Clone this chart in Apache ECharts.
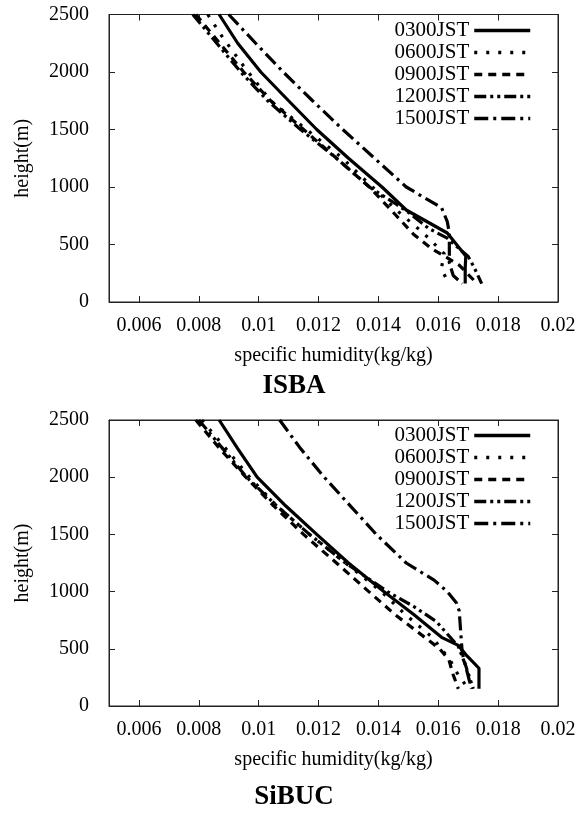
<!DOCTYPE html>
<html><head><meta charset="utf-8">
<script src="https://cdn.jsdelivr.net/npm/echarts@6/dist/echarts.min.js"></script>
<style>html,body{margin:0;padding:0;background:#fff}#c{width:585px;height:813px}</style>
</head><body><div id="c"></div>
<script>
// ---- data ----
const seriesNames = ['0300JST', '0600JST', '0900JST', '1200JST', '1500JST'];
const panelTitles = ['ISBA', 'SiBUC'];
const xTicks = [0.006, 0.008, 0.01, 0.012, 0.014, 0.016, 0.018, 0.02];
const xLabel = 'specific humidity(kg/kg)';
const yLabel = 'height(m)';

// ISBA  [specific humidity, height]
const isba0300 = [[0.00868,2500],[0.0093,2250],[0.01007,2000],[0.0110,1750],[0.01194,1500],[0.0130,1250],[0.01412,1000],[0.01493,800],[0.0163,600],[0.01692,400],[0.0169,300],[0.0169,160]];
const isba0600 = [[0.0083,2500],[0.0088,2300],[0.0095,2050],[0.0098,1950],[0.0104,1750],[0.0116,1500],[0.0128,1250],[0.0138,1000],[0.0146,800],[0.0155,600],[0.0162,420],[0.0161,290],[0.01635,160]];
const isba0900 = [[0.0079,2500],[0.0087,2250],[0.0095,2000],[0.0104,1750],[0.0115,1500],[0.0126,1250],[0.0137,1000],[0.0146,750],[0.01517,590],[0.0158,460],[0.0162,400],[0.0167,320],[0.0173,160]];
const isba1200 = [[0.0078,2500],[0.0086,2250],[0.0094,2000],[0.0103,1750],[0.0114,1500],[0.0126,1250],[0.0137,1000],[0.0146,850],[0.01505,770],[0.01568,640],[0.0163,555],[0.0170,395],[0.0172,300],[0.01745,160]];
const isba1500 = [[0.0090,2500],[0.0099,2250],[0.01082,2000],[0.0118,1750],[0.01281,1500],[0.01387,1250],[0.01493,1000],[0.01611,820],[0.0163,700],[0.01637,600],[0.01637,340],[0.0165,230],[0.0168,160]];

// SiBUC
const sibuc0300 = [[0.00868,2500],[0.0093,2250],[0.00995,2000],[0.0109,1750],[0.01194,1500],[0.0130,1250],[0.01418,1000],[0.01518,800],[0.01611,600],[0.01667,530],[0.01692,450],[0.01736,330],[0.01736,150]];
const sibuc0600 = [[0.0081,2500],[0.0089,2250],[0.0097,2000],[0.0106,1750],[0.0117,1500],[0.0129,1250],[0.0141,1000],[0.0149,800],[0.0158,600],[0.0164,400],[0.0166,300],[0.0170,150]];
const sibuc0900 = [[0.0079,2500],[0.0087,2250],[0.00957,2000],[0.0105,1750],[0.0115,1500],[0.0126,1250],[0.01368,1000],[0.01455,800],[0.01555,600],[0.01605,500],[0.01636,400],[0.01649,280],[0.01667,150]];
const sibuc1200 = [[0.0080,2500],[0.0088,2250],[0.0096,2000],[0.0106,1750],[0.0117,1500],[0.0129,1250],[0.0143,1000],[0.01518,870],[0.01593,740],[0.01667,520],[0.01692,350],[0.01717,150]];
const sibuc1500 = [[0.0107,2500],[0.0114,2250],[0.01219,2000],[0.01306,1750],[0.01393,1500],[0.01493,1250],[0.01586,1100],[0.0163,1000],[0.01661,900],[0.0167,830],[0.0168,465],[0.01711,150]];

const panelData = [
  [isba0300, isba0600, isba0900, isba1200, isba1500],
  [sibuc0300, sibuc0600, sibuc0900, sibuc1200, sibuc1500]
];

// ---- styles ----
const FONT = '"Liberation Serif", "DejaVu Serif", serif';
const dashes = ['solid', [3, 9], [8, 6], [12, 4, 3, 4, 3, 4], [14, 5, 3, 5]];
const grids = [
  { left: 109, top: 14.5, width: 449, height: 287.5 },
  { left: 109, top: 420, width: 449, height: 286 }
];

const option = {
  animation: false,
  backgroundColor: '#fff',
  grid: grids.map(g => Object.assign({ show: true, borderColor: '#222', borderWidth: 1, backgroundColor: 'transparent' }, g)),
  xAxis: [],
  yAxis: [],
  legend: [],
  series: [],
  graphic: []
};

grids.forEach((g, gi) => {
  option.xAxis.push({
    type: 'value', gridIndex: gi, min: 0.005, max: 0.02, position: 'bottom',
    name: xLabel, nameLocation: 'middle', nameGap: 44,
    nameTextStyle: { fontFamily: FONT, fontSize: 20, color: '#000' },
    axisLine: { show: true, onZero: false, lineStyle: { color: '#222', width: 1 } },
    axisTick: { show: true, inside: true, length: 6, customValues: xTicks, lineStyle: { color: '#222' } },
    axisLabel: { show: true, customValues: xTicks, margin: 14, fontFamily: FONT, fontSize: 20, color: '#000',
      formatter: v => String(+v.toFixed(3)) },
    splitLine: { show: false }
  });
  option.xAxis.push({
    type: 'value', gridIndex: gi, min: 0.005, max: 0.02, position: 'top',
    axisLine: { show: true, onZero: false, lineStyle: { color: '#222', width: 1 } },
    axisTick: { show: true, inside: true, length: 6, customValues: xTicks, lineStyle: { color: '#222' } },
    axisLabel: { show: false }, splitLine: { show: false }
  });
  option.yAxis.push({
    type: 'value', gridIndex: gi, min: 0, max: 2500, interval: 500, position: 'left',
    name: yLabel, nameLocation: 'middle', nameGap: 76, nameRotate: 90,
    nameTextStyle: { fontFamily: FONT, fontSize: 20, color: '#000' },
    axisLine: { show: true, onZero: false, lineStyle: { color: '#222', width: 1 } },
    axisTick: { show: true, inside: true, length: 6, lineStyle: { color: '#222' } },
    axisLabel: { margin: 20, fontFamily: FONT, fontSize: 20, color: '#000', formatter: v => String(v) },
    splitLine: { show: false }
  });
  option.yAxis.push({
    type: 'value', gridIndex: gi, min: 0, max: 2500, interval: 500, position: 'right',
    axisLine: { show: true, onZero: false, lineStyle: { color: '#222', width: 1 } },
    axisTick: { show: true, inside: true, length: 6, lineStyle: { color: '#222' } },
    axisLabel: { show: false }, splitLine: { show: false }
  });

  seriesNames.forEach((nm, si) => {
    option.series.push({
      type: 'line', name: nm, xAxisIndex: gi * 2, yAxisIndex: gi * 2,
      data: panelData[gi][si], showSymbol: false, symbol: 'none', smooth: false,
      lineStyle: { color: '#000', width: 3.2, type: dashes[si] },
      itemStyle: { color: '#000' },
      z: 5
    });
  });

  option.legend.push({
    data: seriesNames, orient: 'vertical', right: 53, top: gi === 0 ? 20 : 425,
    align: 'right', itemWidth: 56, itemHeight: 14, itemGap: 1, padding: 0,
    itemStyle: { opacity: 0 },
    lineStyle: { width: 3.5, color: '#000' },
    textStyle: { fontFamily: FONT, fontSize: 21, color: '#000', lineHeight: 20 },
    selectedMode: false
  });

  option.graphic.push({
    type: 'text', x: 294, y: gi === 0 ? 386 : 797,
    style: { text: panelTitles[gi], font: 'bold 27px ' + FONT, fill: '#000', textAlign: 'center', textVerticalAlign: 'middle' }
  });
});

const chart = echarts.init(document.getElementById('c'), null, { renderer: 'canvas' });
chart.setOption(option);
</script>
</body></html>
